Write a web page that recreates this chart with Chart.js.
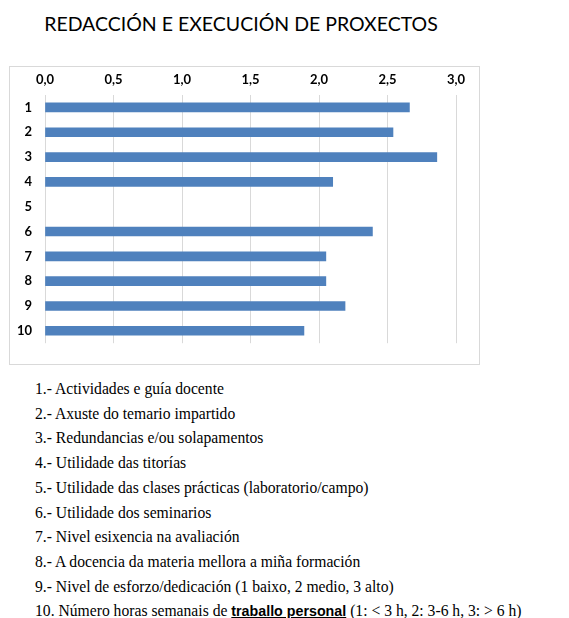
<!DOCTYPE html>
<html>
<head>
<meta charset="utf-8">
<script src="https://cdn.jsdelivr.net/npm/chart.js@4"></script>
<style>
  html, body { margin: 0; padding: 0; background: #fff; }
  body { width: 569px; height: 618px; position: relative; overflow: hidden; }
  #title {
    position: absolute; left: 0; top: 9px; width: 482px;
    text-align: center; font-family: Lato, "Open Sans", sans-serif;
    font-size: 19.5px; line-height: 30px; color: #000;
  }
  #box {
    position: absolute; left: 9px; top: 66px; width: 471px; height: 299px;
    box-sizing: border-box; border: 1px solid #d9d9d9; background: #fff;
  }
  #box canvas { position: absolute; left: 0; top: 0; }
  #notes {
    position: absolute; left: 35px; top: 377px; margin: 0; padding: 0;
    list-style: none; font-family: "Liberation Serif", "Times New Roman", serif;
    font-size: 17px; line-height: 24.7px; color: #000; white-space: nowrap;
    transform: scaleX(0.92); transform-origin: 0 0;
  }
  #notes .em {
    font-family: "Liberation Sans", Arial, sans-serif; font-weight: bold;
    font-size: 15.5px; text-decoration: underline;
  }
</style>
</head>
<body>
<div id="title">REDACCIÓN E EXECUCIÓN DE PROXECTOS</div>
<div id="box"><canvas id="chart" width="469" height="297"></canvas></div>
<ul id="notes">
  <li>1.- Actividades e guía docente</li>
  <li>2.- Axuste do temario impartido</li>
  <li>3.- Redundancias e/ou solapamentos</li>
  <li>4.- Utilidade das titorías</li>
  <li>5.- Utilidade das clases prácticas (laboratorio/campo)</li>
  <li>6.- Utilidade dos seminarios</li>
  <li>7.- Nivel esixencia na avaliación</li>
  <li>8.- A docencia da materia mellora a miña formación</li>
  <li>9.- Nivel de esforzo/dedicación (1 baixo, 2 medio, 3 alto)</li>
  <li>10. Número horas semanais de <span class="em">traballo personal</span> (1: &lt; 3 h, 2: 3-6 h, 3: &gt; 6 h)</li>
</ul>
<script>
// Question numbers (one bar per survey item)
const questions = ['1', '2', '3', '4', '5', '6', '7', '8', '9', '10'];
// Mean score per item; item 5 has no answer
const scores = [2.66, 2.54, 2.86, 2.10, null, 2.39, 2.05, 2.05, 2.19, 1.89];
// Value axis range and step
const axisMin = 0;
const axisMax = 3;
const axisStep = 0.5;

const tickFont = { family: 'Lato, "Open Sans", sans-serif', size: 13, weight: 'bold' };

new Chart(document.getElementById('chart'), {
  type: 'bar',
  data: {
    labels: questions,
    datasets: [{
      data: scores,
      backgroundColor: '#4f81bd',
      borderWidth: 0,
      barThickness: 9
    }]
  },
  options: {
    indexAxis: 'y',
    responsive: false,
    animation: false,
    layout: { padding: { left: 0, top: 0, right: 23, bottom: 15.5 } },
    plugins: {
      legend: { display: false },
      title: { display: false },
      tooltip: { enabled: false }
    },
    scales: {
      x: {
        position: 'top',
        min: axisMin,
        max: axisMax,
        grid: { color: '#d9d9d9', lineWidth: 1, drawTicks: false },
        border: { display: false },
        ticks: {
          stepSize: axisStep,
          padding: 7,
          color: '#000',
          font: tickFont,
          callback: v => v.toFixed(1).replace('.', ',')
        },
        afterFit: s => { s.height = 28; }
      },
      y: {
        grid: { display: false, drawTicks: false },
        border: { display: false },
        ticks: { padding: 13, color: '#000', font: tickFont },
        afterFit: s => { s.width = 35; }
      }
    }
  }
});
</script>
</body>
</html>
